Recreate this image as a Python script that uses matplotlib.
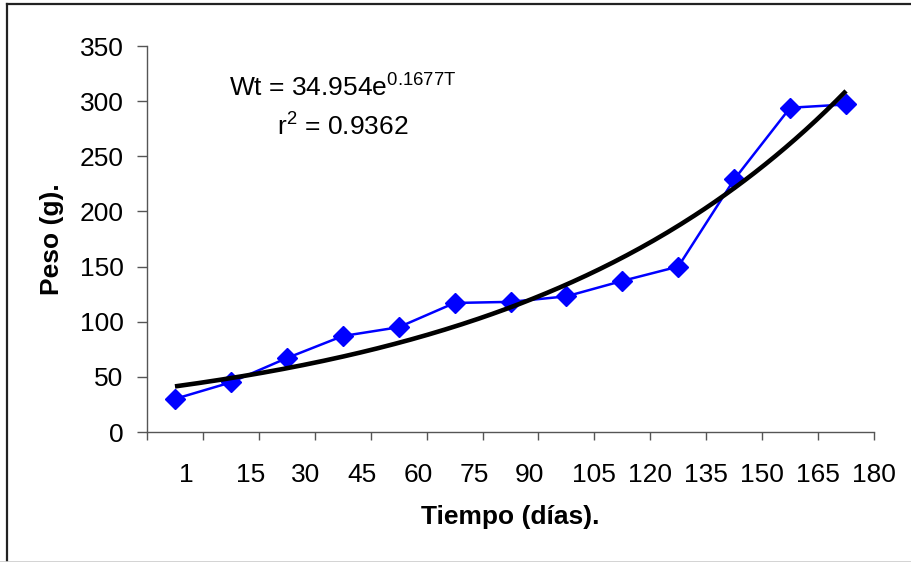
import numpy as np
import matplotlib
matplotlib.use("Agg")
import matplotlib.pyplot as plt
from matplotlib.lines import Line2D

plt.rcParams['font.family'] = ['Liberation Sans', 'DejaVu Sans']
plt.rcParams['mathtext.fontset'] = 'custom'
plt.rcParams['mathtext.rm'] = 'Liberation Sans'
plt.rcParams['mathtext.it'] = 'Liberation Sans'
plt.rcParams['mathtext.default'] = 'regular'

# ---- data ----
day_labels = ["1", "15", "30", "45", "60", "75", "90", "105", "120", "135", "150", "165", "180"]
peso = [30, 45, 67, 87, 95, 117, 118, 123, 137, 150, 229, 294, 297]
trend_a = 34.954
trend_b = 0.1677
r2 = 0.9362
y_ticks = [0, 50, 100, 150, 200, 250, 300, 350]

# label placement offsets (as in the original Excel rendering)
label_pos = [0.2, 1.36, 2.34, 3.35, 4.35, 5.35, 6.33, 7.5, 8.5, 9.5, 10.5, 11.5, 12.49]

FS = 19
W, H = 912, 562
fig = plt.figure(figsize=(W / 100, H / 100), dpi=100)
ax = fig.add_axes([147 / W, 1 - 432 / H, 727 / W, 386 / H])

x = np.arange(len(peso))
ax.plot(x, peso, color='#0000FF', lw=1.8, marker='D', ms=10,
        markerfacecolor='#0000FF', markeredgecolor='#0000FF', zorder=3)

T = np.linspace(1, len(peso), 200)
ax.plot(T - 1, trend_a * np.exp(trend_b * T), color='black', lw=3.3, zorder=4,
        solid_capstyle='butt')

ax.set_xlim(-0.5, len(peso) - 0.5)
ax.set_ylim(0, 350)
ax.set_yticks(y_ticks)
ax.set_yticklabels([str(v) for v in y_ticks])

ax.xaxis.remove_overlapping_locs = False
ax.set_xticks(np.arange(len(peso) + 1) - 0.5)
ax.set_xticklabels([])
ax.set_xticks(label_pos, minor=True)
ax.set_xticklabels(day_labels, minor=True)

for s in ['top', 'right']:
    ax.spines[s].set_visible(False)
for s in ['left', 'bottom']:
    ax.spines[s].set_color('#555555')
    ax.spines[s].set_linewidth(1.0)

ax.tick_params(axis='y', which='major', length=7, width=1.0, color='#555555',
               labelsize=FS, pad=10)
ax.tick_params(axis='x', which='major', length=6, width=1.0, color='#555555', direction='out')
ax.tick_params(axis='x', which='minor', length=0, labelsize=FS, pad=22)

ax.set_xlabel("Tiempo (días).", fontsize=FS, fontweight='bold')
ax.xaxis.set_label_coords(0.5, (432 - 517) / 386)
ax.xaxis.label.set_va('center')
ax.set_ylabel("Peso (g).", fontsize=FS, fontweight='bold')
ax.yaxis.set_label_coords((52 - 147) / 727, 0.5)
ax.yaxis.label.set_va('center')

fig.text(343 / W, 1 - 97 / H, r"Wt = 34.954e$^{0.1677T}$", fontsize=FS,
         ha='center', va='baseline')
fig.text(343 / W, 1 - 136 / H, r"r$^{2}$ = %.4f" % r2, fontsize=FS,
         ha='center', va='baseline')

# outer frame fragments
fig.add_artist(Line2D([7 / W, 7 / W], [0, 1 - 4 / H], color='#222222', lw=1.6,
                      transform=fig.transFigure))
fig.add_artist(Line2D([7 / W, 1], [1 - 4 / H, 1 - 4 / H], color='#222222', lw=1.6,
                      transform=fig.transFigure))
fig.add_artist(Line2D([0, 1], [0.5 / H, 0.5 / H], color='#cccccc', lw=1.2,
                      transform=fig.transFigure))

fig.savefig("out.png", dpi=100)
